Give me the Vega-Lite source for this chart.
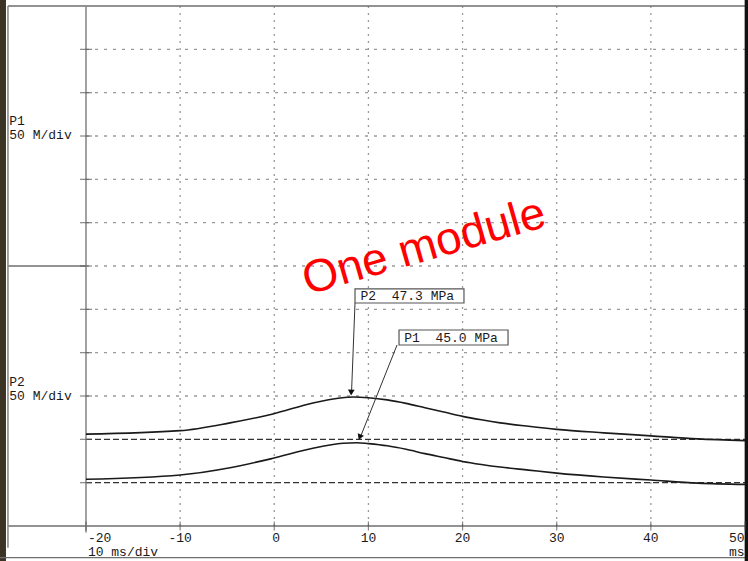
{
  "$schema": "https://vega.github.io/schema/vega-lite/v6.json",
  "width": 748,
  "height": 561,
  "autosize": {"type": "none"},
  "padding": 0,
  "background": "white",
  "config": {"view": {"stroke": null}},
  "datasets": {
    "curves": [
      {"series": "P2", "x": -20.0, "y": 2.12},
      {"series": "P2", "x": -10.0, "y": 2.2},
      {"series": "P2", "x": -4.7, "y": 2.38},
      {"series": "P2", "x": -0.14, "y": 2.585},
      {"series": "P2", "x": 4.11, "y": 2.84},
      {"series": "P2", "x": 6.98, "y": 2.954},
      {"series": "P2", "x": 8.4, "y": 2.977},
      {"series": "P2", "x": 10, "y": 2.96},
      {"series": "P2", "x": 12, "y": 2.91},
      {"series": "P2", "x": 14, "y": 2.83},
      {"series": "P2", "x": 16, "y": 2.73},
      {"series": "P2", "x": 18, "y": 2.63},
      {"series": "P2", "x": 20, "y": 2.53},
      {"series": "P2", "x": 22, "y": 2.45},
      {"series": "P2", "x": 24, "y": 2.38},
      {"series": "P2", "x": 27, "y": 2.3},
      {"series": "P2", "x": 30, "y": 2.23},
      {"series": "P2", "x": 35, "y": 2.15},
      {"series": "P2", "x": 40, "y": 2.08},
      {"series": "P2", "x": 45, "y": 2.01},
      {"series": "P2", "x": 50, "y": 1.97},
      {"series": "P1", "x": -20.0, "y": 1.078},
      {"series": "P1", "x": -10.0, "y": 1.177},
      {"series": "P1", "x": -4.7, "y": 1.345},
      {"series": "P1", "x": -0.14, "y": 1.562},
      {"series": "P1", "x": 4.11, "y": 1.793},
      {"series": "P1", "x": 7.3, "y": 1.908},
      {"series": "P1", "x": 8.8, "y": 1.922},
      {"series": "P1", "x": 10, "y": 1.9},
      {"series": "P1", "x": 12, "y": 1.85},
      {"series": "P1", "x": 14, "y": 1.77},
      {"series": "P1", "x": 16, "y": 1.67},
      {"series": "P1", "x": 18, "y": 1.58},
      {"series": "P1", "x": 20, "y": 1.49},
      {"series": "P1", "x": 22, "y": 1.42},
      {"series": "P1", "x": 24, "y": 1.36},
      {"series": "P1", "x": 27, "y": 1.29},
      {"series": "P1", "x": 30, "y": 1.22},
      {"series": "P1", "x": 35, "y": 1.13},
      {"series": "P1", "x": 40, "y": 1.06},
      {"series": "P1", "x": 45, "y": 0.99},
      {"series": "P1", "x": 50, "y": 0.96}
    ],
    "vgrid": [
      {"x": -10, "y": 0, "y2": 12}, {"x": 0, "y": 0, "y2": 12}, {"x": 10, "y": 0, "y2": 12},
      {"x": 20, "y": 0, "y2": 12}, {"x": 30, "y": 0, "y2": 12}, {"x": 40, "y": 0, "y2": 12}
    ],
    "hgrid": [
      {"x": -20, "x2": 50, "y": 3}, {"x": -20, "x2": 50, "y": 4}, {"x": -20, "x2": 50, "y": 5},
      {"x": -20, "x2": 50, "y": 6}, {"x": -20, "x2": 50, "y": 7}, {"x": -20, "x2": 50, "y": 8},
      {"x": -20, "x2": 50, "y": 9}, {"x": -20, "x2": 50, "y": 10}, {"x": -20, "x2": 50, "y": 11}
    ],
    "baselines": [
      {"x": -20, "x2": 50, "y": 1}, {"x": -20, "x2": 50, "y": 2}
    ],
    "frameH": [
      {"x": -28.29, "x2": 50, "y": 12},
      {"x": -28.29, "x2": 50, "y": 0},
      {"x": -28.29, "x2": -20, "y": 6},
      {"x": -29.2, "x2": 50.4, "y": -0.73}
    ],
    "frameV": [
      {"x": -28.29, "y": -0.5, "y2": 12},
      {"x": -20, "y": -0.15, "y2": 12}
    ],
    "rightEdge": [{"x": 50.15, "y": -0.81, "y2": 12.14}],
    "leftBand": [{"x": -29.2, "x2": -28.5, "y": -0.81, "y2": 12.14}],
    "xticks": [
      {"x": -20, "y": 0}, {"x": -10, "y": 0}, {"x": 0, "y": 0}, {"x": 10, "y": 0},
      {"x": 20, "y": 0}, {"x": 30, "y": 0}, {"x": 40, "y": 0}, {"x": 50, "y": 0}
    ],
    "yticks": [
      {"x": -20, "y": 1}, {"x": -20, "y": 2}, {"x": -20, "y": 3}, {"x": -20, "y": 4},
      {"x": -20, "y": 5}, {"x": -20, "y": 6}, {"x": -20, "y": 7}, {"x": -20, "y": 8},
      {"x": -20, "y": 9}, {"x": -20, "y": 10}, {"x": -20, "y": 11}
    ],
    "ticklabels": [
      {"x": -10, "y": -0.27, "label": "-10"}, {"x": 0.2, "y": -0.27, "label": "0"},
      {"x": 10, "y": -0.27, "label": "10"}, {"x": 20, "y": -0.27, "label": "20"},
      {"x": 30, "y": -0.27, "label": "30"}, {"x": 40, "y": -0.27, "label": "40"}
    ],
    "leftTexts": [
      {"x": -19.8, "y": -0.27, "label": "-20"},
      {"x": -19.8, "y": -0.6, "label": "10 ms/div"},
      {"x": -28.15, "y": 9.335, "label": "P1"},
      {"x": -28.15, "y": 9.02, "label": "50 M/div"},
      {"x": -28.15, "y": 3.325, "label": "P2"},
      {"x": -28.15, "y": 3.01, "label": "50 M/div"}
    ],
    "rightTexts": [
      {"x": 49.95, "y": -0.27, "label": "50"},
      {"x": 49.95, "y": -0.6, "label": "ms"}
    ],
    "boxes": [
      {"x": 8.575, "x2": 20.15, "y": 5.146, "y2": 5.47},
      {"x": 13.25, "x2": 24.83, "y": 4.177, "y2": 4.523}
    ],
    "boxTexts": [
      {"x": 9.15, "y": 5.305, "label": "P2\u00a0\u00a047.3\u00a0MPa"},
      {"x": 13.8, "y": 4.35, "label": "P1\u00a0\u00a045.0\u00a0MPa"}
    ],
    "arrows": [
      {"series": "P2", "x": 8.575, "y": 5.146, "x2": 8.2, "y2": 3.05},
      {"series": "P1", "x": 13.04, "y": 4.177, "x2": 9.05, "y2": 2.0}
    ],
    "heads": [
      {"series": "P2", "x": 8.17, "y": 3.08, "angle": 2},
      {"series": "P1", "x": 9.08, "y": 2.05, "angle": 22}
    ],
    "stamp": [{"x": 15.9, "y": 6.44, "label": "One module"}]
  },
  "encoding": {
    "x": {"field": "x", "type": "quantitative", "axis": null, "scale": {"domain": [-29.135, 50.32], "nice": false, "zero": false}},
    "y": {"field": "y", "type": "quantitative", "axis": null, "scale": {"domain": [-0.808, 12.139], "nice": false, "zero": false}}
  },
  "layer": [
    {"data": {"name": "leftBand"}, "mark": {"type": "rect", "color": "#3b3424"},
     "encoding": {"x2": {"field": "x2"}, "y2": {"field": "y2"}}},
    {"data": {"name": "vgrid"}, "mark": {"type": "rule", "color": "#9a9a9a", "strokeWidth": 1.3, "strokeDash": [2, 5]},
     "encoding": {"y2": {"field": "y2"}}},
    {"data": {"name": "hgrid"}, "mark": {"type": "rule", "color": "#9a9a9a", "strokeWidth": 1.3, "strokeDash": [3, 6]},
     "encoding": {"x2": {"field": "x2"}}},
    {"data": {"name": "baselines"}, "mark": {"type": "rule", "color": "#333333", "strokeWidth": 1.2, "strokeDash": [6, 3]},
     "encoding": {"x2": {"field": "x2"}}},
    {"data": {"name": "frameH"}, "mark": {"type": "rule", "color": "#6e6e6e", "strokeWidth": 1.3},
     "encoding": {"x2": {"field": "x2"}}},
    {"data": {"name": "frameV"}, "mark": {"type": "rule", "color": "#8a8a8a", "strokeWidth": 1.6},
     "encoding": {"y2": {"field": "y2"}}},
    {"data": {"name": "rightEdge"}, "mark": {"type": "rule", "color": "#111111", "strokeWidth": 3.5},
     "encoding": {"y2": {"field": "y2"}}},
    {"data": {"name": "xticks"}, "mark": {"type": "tick", "orient": "vertical", "color": "#555555", "size": 9, "thickness": 1.2}},
    {"data": {"name": "yticks"}, "mark": {"type": "tick", "orient": "horizontal", "color": "#555555", "size": 12, "thickness": 1.2}},
    {"data": {"name": "curves"}, "mark": {"type": "line", "color": "#1a1a1a", "strokeWidth": 1.6, "interpolate": "monotone"},
     "encoding": {"detail": {"field": "series"}}},
    {"data": {"name": "arrows"}, "mark": {"type": "rule", "color": "#333333", "strokeWidth": 1},
     "encoding": {"x2": {"field": "x2"}, "y2": {"field": "y2"}}},
    {"data": {"name": "heads"}, "mark": {"type": "point", "shape": "triangle-down", "filled": true, "color": "#111111", "size": 45, "opacity": 1},
     "encoding": {"angle": {"field": "angle", "type": "quantitative", "scale": null}}},
    {"data": {"name": "boxes"}, "mark": {"type": "rect", "fill": "white", "stroke": "#555555", "strokeWidth": 1.2},
     "encoding": {"x2": {"field": "x2"}, "y2": {"field": "y2"}}},
    {"data": {"name": "boxTexts"}, "mark": {"type": "text", "align": "left", "baseline": "middle", "font": "Liberation Mono", "fontSize": 13, "color": "#1a1a1a"},
     "encoding": {"text": {"field": "label"}}},
    {"data": {"name": "ticklabels"}, "mark": {"type": "text", "align": "center", "baseline": "middle", "font": "Liberation Mono", "fontSize": 13, "color": "#1a1a1a"},
     "encoding": {"text": {"field": "label"}}},
    {"data": {"name": "leftTexts"}, "mark": {"type": "text", "align": "left", "baseline": "middle", "font": "Liberation Mono", "fontSize": 13, "color": "#1a1a1a"},
     "encoding": {"text": {"field": "label"}}},
    {"data": {"name": "rightTexts"}, "mark": {"type": "text", "align": "right", "baseline": "middle", "font": "Liberation Mono", "fontSize": 13, "color": "#1a1a1a"},
     "encoding": {"text": {"field": "label"}}},
    {"data": {"name": "stamp"}, "mark": {"type": "text", "align": "center", "baseline": "middle", "font": "Liberation Sans", "fontSize": 46, "angle": 344, "color": "#ff0000"},
     "encoding": {"text": {"field": "label"}}}
  ]
}
